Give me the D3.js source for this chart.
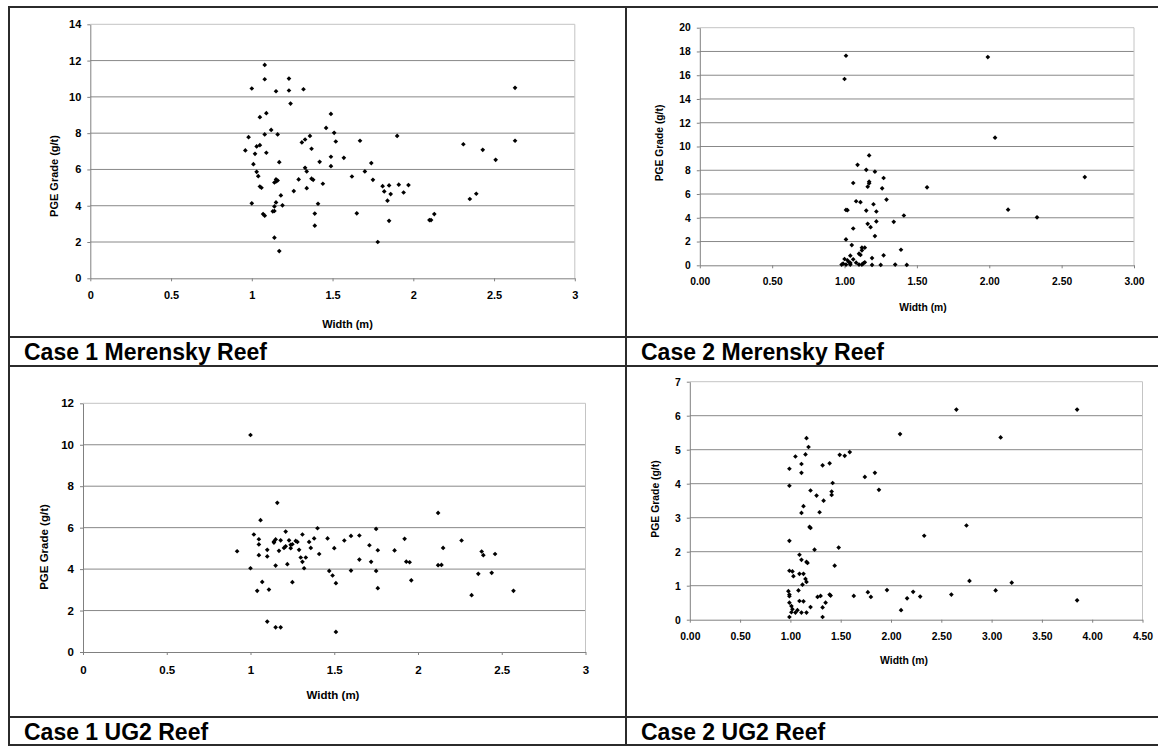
<!DOCTYPE html>
<html>
<head>
<meta charset="utf-8">
<script src="https://cdn.jsdelivr.net/npm/d3@7"></script>
<style>
  body { margin: 0; background: #fff; }
  svg { display: block; }
  text { font-family: Arial, "Liberation Sans", sans-serif; font-weight: bold; fill: #000; }
</style>
</head>
<body>
<div id="chart"></div>
<script>
// captions
var captions = ["Case 1 Merensky Reef", "Case 2 Merensky Reef", "Case 1 UG2 Reef", "Case 2 UG2 Reef"];

// tick values
var xTicks3 = [0, 0.5, 1, 1.5, 2, 2.5, 3],
    xTicks45 = [0, 0.5, 1, 1.5, 2, 2.5, 3, 3.5, 4, 4.5],
    yTicks14 = [0, 2, 4, 6, 8, 10, 12, 14],
    yTicks20 = [0, 2, 4, 6, 8, 10, 12, 14, 16, 18, 20],
    yTicks12 = [0, 2, 4, 6, 8, 10, 12],
    yTicks7 = [0, 1, 2, 3, 4, 5, 6, 7];

// [width (m), PGE grade (g/t)]
var case1Merensky = [
  [1.08,11.76],[1.08,10.97],[1.00,10.46],[1.15,10.31],[1.23,11.01],[1.23,10.35],[1.32,10.42],[1.24,9.63],[1.09,9.10],[1.05,8.88],
  [1.12,8.18],[1.49,9.06],[1.46,8.29],[1.51,8.02],[0.98,7.78],[1.08,7.93],[1.16,7.93],[1.31,7.49],[1.33,7.65],[1.36,7.85],
  [1.52,7.54],[1.67,7.58],[1.90,7.85],[2.31,7.39],[2.43,7.08],[2.51,6.53],[2.63,10.50],[2.63,7.58],[0.96,7.05],[1.03,7.27],
  [1.05,7.34],[1.02,6.86],[1.09,6.92],[1.01,6.29],[1.17,6.40],[1.37,7.14],[1.42,6.42],[1.49,6.70],[1.49,6.18],[1.57,6.64],
  [1.74,6.35],[1.03,5.87],[1.04,5.63],[1.33,6.09],[1.34,5.89],[1.62,5.61],[1.70,5.89],[1.75,5.43],[1.05,5.06],[1.06,4.99],
  [1.14,5.28],[1.15,5.45],[1.16,5.39],[1.15,5.34],[1.29,5.45],[1.37,5.49],[1.38,5.43],[1.44,5.21],[1.34,4.97],[1.26,4.81],
  [1.18,4.57],[1.19,4.02],[1.15,4.18],[1.14,3.96],[1.13,3.69],[1.14,3.71],[1.00,4.13],[1.07,3.54],[1.08,3.45],[1.41,4.11],
  [1.39,3.57],[1.39,2.90],[1.14,2.24],[1.17,1.50],[1.65,3.58],[1.78,2.00],[1.81,5.08],[1.85,5.12],[1.91,5.16],[1.97,5.14],
  [1.82,4.79],[1.86,4.64],[1.94,4.73],[1.84,4.28],[1.85,3.17],[2.10,3.21],[2.11,3.21],[2.13,3.54],[2.35,4.37],[2.39,4.66]
];

var case2Merensky = [
  [1.17,9.25],[1.09,8.46],[1.15,8.04],[1.21,7.88],[1.27,7.35],[1.06,6.93],[1.17,7.04],[1.17,6.90],[1.16,6.62],[1.26,6.48],
  [1.57,6.56],[1.08,5.39],[1.11,5.31],[1.20,5.14],[1.29,5.53],[1.01,4.66],[1.02,4.64],[1.15,4.61],[1.22,4.53],[1.41,4.19],
  [1.34,3.66],[1.22,3.69],[1.16,3.49],[1.18,3.21],[1.06,3.10],[1.21,2.46],[1.01,2.18],[1.05,1.70],[1.12,1.48],[1.14,1.48],
  [1.12,1.26],[1.10,0.98],[1.11,0.87],[1.39,1.31],[1.27,0.84],[1.19,0.61],[1.04,0.81],[1.00,0.53],[1.02,0.42],[1.06,0.50],
  [1.03,0.28],[0.99,0.14],[1.04,0.20],[1.08,0.22],[1.13,0.17],[1.14,0.25],[0.98,0.06],[1.01,0.06],[1.04,0.06],[1.10,0.06],
  [1.12,0.06],[1.19,0.03],[1.25,0.03],[1.35,0.06],[1.43,0.03],[1.01,17.64],[1.00,15.68],[1.99,17.53],[2.04,10.74],[2.66,7.43],
  [2.13,4.68],[2.33,4.04]
];

var case1UG2 = [
  [1.00,10.47],[1.16,7.20],[1.06,6.36],[2.12,6.71],[1.02,5.67],[1.05,5.44],[1.05,5.19],[0.92,4.86],[1.00,4.04],[1.05,4.67],
  [1.10,4.93],[1.10,4.61],[1.07,3.38],[1.04,2.95],[1.11,3.01],[1.10,1.47],[1.15,1.19],[1.18,1.19],[1.51,0.97],[1.21,5.81],
  [1.14,5.33],[1.15,5.43],[1.14,5.28],[1.18,5.39],[1.23,5.39],[1.17,4.88],[1.20,5.02],[1.21,5.10],[1.24,5.17],[1.25,5.20],
  [1.24,5.01],[1.27,5.36],[1.28,5.31],[1.29,4.93],[1.31,5.67],[1.35,5.31],[1.38,5.48],[1.40,5.97],[1.36,5.02],[1.30,4.56],
  [1.33,4.56],[1.31,4.35],[1.32,4.04],[1.15,4.17],[1.22,4.24],[1.25,3.37],[1.41,4.73],[1.46,5.48],[1.50,5.01],[1.47,3.91],
  [1.49,3.69],[1.51,3.32],[1.56,5.38],[1.60,5.60],[1.65,5.62],[1.60,3.93],[1.65,4.46],[1.71,5.15],[1.72,4.35],[1.75,5.94],
  [1.76,4.91],[1.75,3.91],[1.76,3.08],[1.86,4.90],[1.92,5.46],[1.93,4.36],[1.95,4.33],[1.96,3.46],[2.12,4.19],[2.14,4.20],
  [2.15,5.02],[2.26,5.38],[2.38,4.85],[2.39,4.67],[2.46,4.73],[2.36,3.77],[2.44,3.82],[2.32,2.74],[2.57,2.95]
];

var case2UG2 = [
  [1.16,5.34],[1.18,5.08],[1.05,4.80],[1.15,4.86],[1.49,4.85],[1.54,4.82],[1.59,4.93],[1.11,4.58],[0.99,4.44],[1.11,4.32],
  [1.32,4.54],[1.39,4.60],[1.74,4.20],[1.84,4.32],[1.88,3.82],[1.42,4.02],[0.99,3.94],[1.20,3.80],[1.26,3.65],[1.41,3.77],
  [1.41,3.67],[1.33,3.50],[1.13,3.34],[1.11,3.14],[1.29,3.16],[1.19,2.73],[1.20,2.70],[0.99,2.32],[1.24,2.06],[1.48,2.12],
  [1.44,1.59],[1.09,1.91],[1.11,1.76],[1.16,1.70],[1.17,1.67],[0.99,1.44],[1.02,1.42],[1.09,1.35],[1.13,1.35],[1.03,1.28],
  [1.16,1.11],[1.15,1.20],[1.12,1.03],[1.08,0.86],[0.98,0.84],[0.99,0.74],[0.99,0.69],[1.09,0.55],[1.13,0.54],[1.27,0.67],
  [1.30,0.70],[1.39,0.74],[1.40,0.71],[1.63,0.70],[1.77,0.81],[1.80,0.67],[0.99,0.50],[1.01,0.40],[1.02,0.31],[1.07,0.28],
  [1.05,0.21],[1.01,0.22],[1.11,0.21],[1.16,0.21],[1.20,0.37],[1.32,0.36],[1.35,0.50],[0.99,0.08],[1.32,0.08],[2.65,6.18],
  [3.85,6.18],[2.09,5.46],[3.09,5.36],[2.75,2.77],[2.33,2.47],[2.78,1.14],[3.20,1.09],[1.96,0.87],[2.22,0.82],[2.16,0.63],
  [2.29,0.68],[2.60,0.74],[3.04,0.86],[3.85,0.57],[2.10,0.28]
];

var W = 1158, H = 746;

var svg = d3.select("#chart").append("svg")
  .attr("width", W)
  .attr("height", H);

// panel layout: plot box, font size, axis title spots
var panels = [
  { data: case1Merensky, xt: xTicks3, yt: yTicks14, fmt: d3.format(""), box: [90.3, 574.8, 24.3, 278.3], fs: 11, pad: 10, ytitle: [53.6, 176], xtitle: [347.5, 324] },
  { data: case2Merensky, xt: xTicks3, yt: yTicks20, fmt: d3.format(".2f"), box: [699.8, 1134, 27.7, 265.3], fs: 10.3, pad: 9, ytitle: [659, 143], xtitle: [923, 307] },
  { data: case1UG2, xt: xTicks3, yt: yTicks12, fmt: d3.format(""), box: [83, 585.5, 403.3, 652], fs: 11.5, pad: 10.5, ytitle: [44, 547], xtitle: [333, 695] },
  { data: case2UG2, xt: xTicks45, yt: yTicks7, fmt: d3.format(".2f"), box: [689.8, 1142.5, 381.7, 619.7], fs: 10.4, pad: 10, ytitle: [655.6, 499], xtitle: [904, 660] }
];

var diamond = d3.symbol().type(d3.symbolSquare).size(11);

panels.forEach(function(p) {
  var x = d3.scaleLinear().domain(d3.extent(p.xt)).range([p.box[0], p.box[1]]),
      y = d3.scaleLinear().domain(d3.extent(p.yt)).range([p.box[3], p.box[2]]);

  var g = svg.append("g");

  // gridlines (interior only)
  g.selectAll("line.grid")
    .data(p.yt.slice(1, -1))
    .enter().append("line")
    .attr("class", "grid")
    .attr("x1", p.box[0]).attr("x2", p.box[1])
    .attr("y1", function(d) { return y(d); })
    .attr("y2", function(d) { return y(d); })
    .style("stroke", "#888")
    .style("stroke-width", 1);

  // light top/right border of plot area
  g.append("path")
    .attr("d", "M" + p.box[0] + "," + p.box[2] + "H" + p.box[1] + "V" + p.box[3])
    .style("fill", "none")
    .style("stroke", "#c4c4c4")
    .style("stroke-width", 1);

  var yAxis = d3.axisLeft(y).tickValues(p.yt).tickFormat(d3.format("d"))
    .tickSize(3).tickSizeOuter(0).tickPadding(6);
  var xAxis = d3.axisBottom(x).tickValues(p.xt).tickFormat(p.fmt)
    .tickSize(3).tickSizeOuter(0).tickPadding(p.pad);

  var ya = g.append("g").attr("transform", "translate(" + p.box[0] + ",0)").call(yAxis);
  var xa = g.append("g").attr("transform", "translate(0," + p.box[3] + ")").call(xAxis);

  [ya, xa].forEach(function(a) {
    a.selectAll("path, line").style("stroke", "#808080");
    a.selectAll("text")
      .style("font-family", "Arial, 'Liberation Sans', sans-serif")
      .style("font-weight", "bold")
      .style("font-size", p.fs + "px")
      .style("fill", "#000");
  });

  // axis titles
  g.append("text")
    .attr("transform", "translate(" + p.ytitle[0] + "," + p.ytitle[1] + ") rotate(-90)")
    .attr("text-anchor", "middle")
    .attr("dominant-baseline", "central")
    .style("font-size", p.fs + "px")
    .text("PGE Grade (g/t)");

  g.append("text")
    .attr("x", p.xtitle[0])
    .attr("y", p.xtitle[1])
    .attr("text-anchor", "middle")
    .attr("dominant-baseline", "central")
    .style("font-size", p.fs + "px")
    .text("Width (m)");

  // the points
  g.selectAll("path.pt")
    .data(p.data)
    .enter().append("path")
    .attr("class", "pt")
    .attr("d", diamond)
    .attr("transform", function(d) { return "translate(" + x(d[0]) + "," + y(d[1]) + ") rotate(45)"; })
    .style("fill", "#000");
});

// table frame
var frame = svg.append("g").style("stroke", "#2b2b2b").style("stroke-width", 2);
[7, 337, 366, 717, 745].forEach(function(yy) {
  frame.append("line").attr("x1", 8).attr("x2", W).attr("y1", yy).attr("y2", yy);
});
frame.append("line").attr("x1", 9).attr("x2", 9).attr("y1", 6).attr("y2", 746);
frame.append("line").attr("x1", 626).attr("x2", 626).attr("y1", 6).attr("y2", 746);

// captions
var capPos = [[24, 360], [641, 360], [24, 740], [641, 740]];
svg.selectAll("text.cap")
  .data(captions)
  .enter().append("text")
  .attr("class", "cap")
  .attr("x", function(d, i) { return capPos[i][0]; })
  .attr("y", function(d, i) { return capPos[i][1]; })
  .style("font-size", "23px")
  .text(function(d) { return d; });
</script>
</body>
</html>
